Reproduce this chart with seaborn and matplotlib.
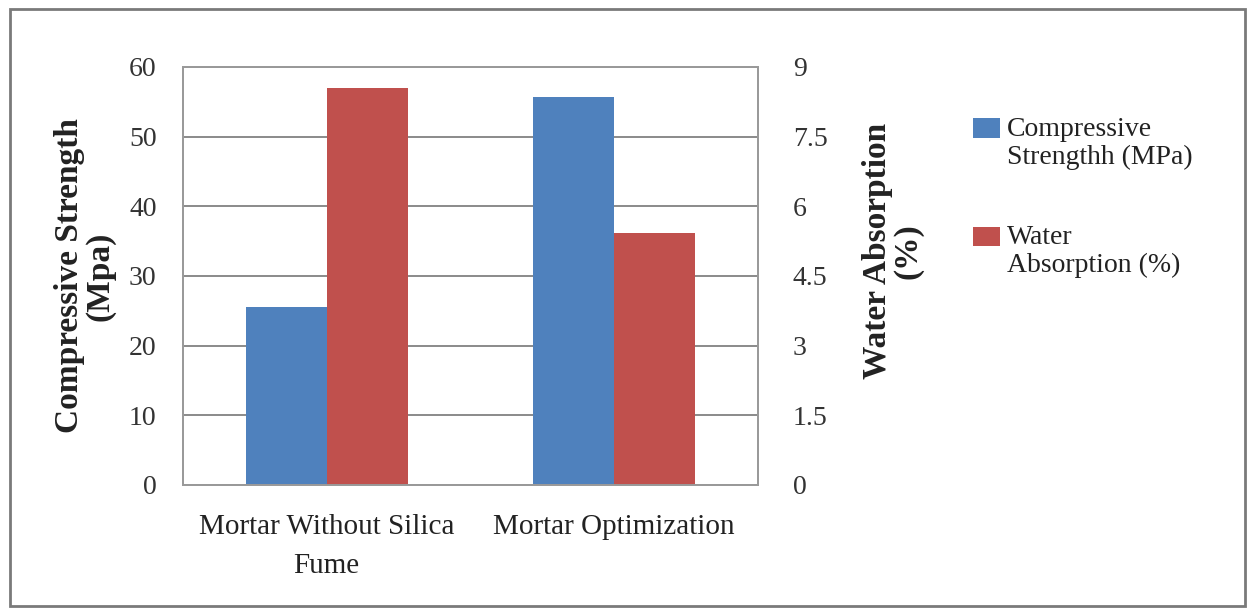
import matplotlib
matplotlib.use("Agg")
import matplotlib.pyplot as plt
from matplotlib.patches import Patch, Rectangle
from matplotlib.legend_handler import HandlerPatch
import numpy as np
import pandas as pd
import seaborn as sns

# Data
categories = ["Mortar Without Silica\nFume", "Mortar Optimization"]
compressive_strength = [25.6, 55.7]   # MPa, left axis
water_absorption = [8.55, 5.43]       # %, right axis
series = ["Compressive\nStrengthh (MPa)", "Water\nAbsorption (%)"]
left_ticks = [0, 10, 20, 30, 40, 50, 60]
right_ticks = [0, 1.5, 3, 4.5, 6, 7.5, 9]
right_tick_labels = ["0", "1.5", "3", "4.5", "6", "7.5", "9"]

colors = {series[0]: "#4F81BD", series[1]: "#C0504D"}

sns.set_theme(style="white")
plt.rcParams["font.family"] = ["Liberation Serif", "DejaVu Serif"]

# Long-form tables: each axis gets its own measure, the other left empty
# so both hue slots keep their dodge positions.
rows_left = []
rows_right = []
for c, cs, wa in zip(categories, compressive_strength, water_absorption):
    rows_left.append({"cat": c, "series": series[0], "value": cs})
    rows_left.append({"cat": c, "series": series[1], "value": np.nan})
    rows_right.append({"cat": c, "series": series[0], "value": np.nan})
    rows_right.append({"cat": c, "series": series[1], "value": wa})
df_left = pd.DataFrame(rows_left)
df_right = pd.DataFrame(rows_right)

fig = plt.figure(figsize=(12.55, 6.15), dpi=100)
fig.patch.set_facecolor("white")
ax = fig.add_axes([0.1458, 0.2114, 0.4582, 0.6797])
ax2 = ax.twinx()

sns.barplot(data=df_left, x="cat", y="value", hue="series", hue_order=series,
            order=categories, palette=colors, width=0.565, errorbar=None,
            saturation=1, ax=ax, legend=False)
sns.barplot(data=df_right, x="cat", y="value", hue="series", hue_order=series,
            order=categories, palette=colors, width=0.565, errorbar=None,
            saturation=1, ax=ax2, legend=False)

for a in (ax, ax2):
    for p in a.patches:
        p.set_edgecolor("none")
        p.set_linewidth(0)

ax.set_xlim(-0.5, 1.5)
ax.set_ylim(0, 60)
ax2.set_ylim(0, 9)
ax.set_yticks(left_ticks)
ax2.set_yticks(right_ticks)
ax2.set_yticklabels(right_tick_labels)

grid_color = "#8a8a8a"
ax.yaxis.grid(True, color=grid_color, linewidth=1.4)
ax.set_axisbelow(True)
ax2.grid(False)
for a in (ax, ax2):
    for s in a.spines.values():
        s.set_color("#9a9a9a")
        s.set_linewidth(1.4)
        s.set_visible(True)

ax.tick_params(axis="y", length=0, pad=19, labelsize=20, labelcolor="#333333")
ax2.tick_params(axis="y", length=0, pad=25, labelsize=20, labelcolor="#333333")
ax.tick_params(axis="x", length=0, pad=21, labelsize=21, labelcolor="#222222")
for t in ax.get_xticklabels():
    t.set_linespacing(1.65)
ax.set_xlabel("")
ax2.set_xlabel("")

ax.set_ylabel("Compressive Strength\n(Mpa)", fontsize=24, fontweight="bold",
              color="#222222", linespacing=0.95)
ax.yaxis.set_label_coords(-0.118, 0.5)
ax2.set_ylabel("Water Absorption\n(%)", fontsize=24, fontweight="bold",
               color="#222222", linespacing=0.95, rotation=90)
ax2.yaxis.set_label_coords(1.181, 0.56)


def top_aligned_square(legend, orig_handle, xdescent, ydescent, width, height, fontsize):
    # keep the colour swatch level with the first line of a two-line label
    return Rectangle((-xdescent, -ydescent + 0.55 * fontsize), width, height)


handles = [Patch(facecolor=colors[s], edgecolor="none") for s in series]
leg = fig.legend(handles, series, loc="upper left", bbox_to_anchor=(0.775, 0.81),
                 frameon=False, fontsize=20, handlelength=1.0, handleheight=0.72,
                 handletextpad=0.22, labelspacing=2.0, borderaxespad=0, borderpad=0,
                 handler_map={Patch: HandlerPatch(patch_func=top_aligned_square)})
for t in leg.get_texts():
    t.set_linespacing(1.15)
    t.set_color("#222222")

# Outer frame around the whole chart
fig.add_artist(Rectangle((0.008, 0.015), 0.984, 0.97, transform=fig.transFigure,
                         fill=False, edgecolor="#7a7a7a", linewidth=2))

fig.savefig("out.png", dpi=100, facecolor="white")
